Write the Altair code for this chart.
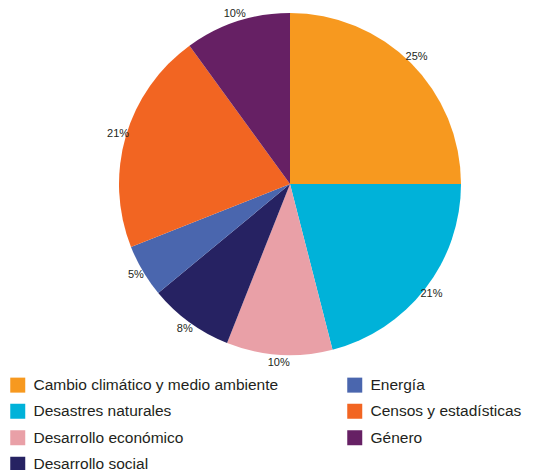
import altair as alt
import pandas as pd

categories = ["Cambio climático y medio ambiente", "Desastres naturales", "Desarrollo económico",
              "Desarrollo social", "Energía", "Censos y estadísticas", "Género"]
values = [25, 21, 10, 8, 5, 21, 10]
colors = ["#F7991F", "#00B2D9", "#E9A0A7", "#262262", "#4A66AE", "#F26522", "#662064"]

df = pd.DataFrame({
    "cat": categories,
    "val": values,
    "idx": list(range(len(categories))),
    "label": [f"{v}%" for v in values],
})

FONT = "Liberation Sans"
cx, cy = 282, 176

base = alt.Chart(df).encode(
    theta=alt.Theta("val:Q", stack=True),
    order=alt.Order("idx:Q"),
)

pie = base.mark_arc(radius=171, stroke=None).encode(
    x=alt.value(cx), y=alt.value(cy),
    color=alt.Color(
        "cat:N",
        scale=alt.Scale(domain=categories, range=colors),
        legend=alt.Legend(
            title=None, orient="none", legendX=2, legendY=369, columns=2,
            symbolType="square", symbolSize=225, symbolStrokeWidth=0,
            labelFont=FONT, labelFontSize=15.5, labelColor="#231F20",
            labelOffset=8, rowPadding=9.5, columnPadding=68, labelLimit=400,
        ),
    ),
)

text = base.mark_text(radius=179, font=FONT, fontSize=11, color="#231F20").encode(
    x=alt.value(cx), y=alt.value(cy),
    text="label:N",
)

chart = (pie + text).properties(
    width=536, height=462, padding=0,
    autosize=alt.AutoSizeParams(type="none"),
).configure_view(stroke=None)

chart.save("out.html", embed_options={"renderer": "svg", "actions": False})
